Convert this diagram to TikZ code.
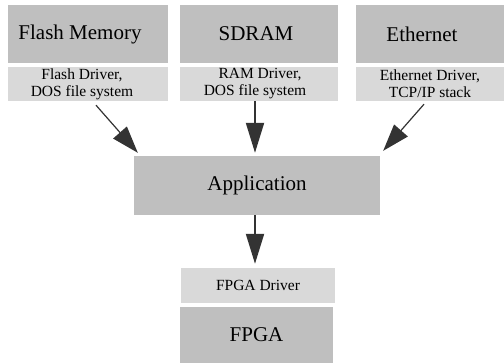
\documentclass[tikz,border=0pt]{standalone}
\usepackage{fontspec}
\setmainfont{Liberation Serif}
\usetikzlibrary{arrows.meta}
\definecolor{darkbox}{HTML}{BFBFBF}
\definecolor{lightbox}{HTML}{D9D9D9}
\definecolor{arrowc}{HTML}{333333}
\begin{document}
\begin{tikzpicture}[x=1pt,y=-1pt,
  bigbox/.style={fill=darkbox,draw=none,inner sep=0pt,minimum height=58pt},
  drvbox/.style={fill=lightbox,draw=none,inner sep=0pt,minimum height=34pt},
  bigtext/.style={inner sep=0pt,font=\fontsize{21}{24}\selectfont},
  drvtext/.style={inner sep=0pt,align=center,font=\fontsize{15.5}{17}\selectfont},
  flow/.style={draw=arrowc,line width=2pt,-{Triangle[length=30pt,width=18pt]}},
  diag/.style={draw=arrowc,line width=1.2pt,-{Triangle[length=27pt,width=18pt]}}]
\useasboundingbox (0,0) rectangle (504,363);
\fill[white] (0,0) rectangle (504,363);
% top row
\node[bigbox,minimum width=160pt] (flash) at (88,34) {};
\node[bigtext] (flashT) at ([xshift=-8pt]flash.center) {Flash Memory};
\node[drvbox,minimum width=160pt] (flashdrv) at (88,84) {};
\node[drvtext] (flashdrvT) at ([xshift=-6pt]flashdrv.center) {Flash Driver,\\DOS file system};
\node[bigbox,minimum width=158pt] (sdram) at (259,34) {};
\node[bigtext] (sdramT) at ([xshift=-3pt]sdram.center) {SDRAM};
\node[drvbox,minimum width=158pt] (sdramdrv) at (259,84) {};
\node[drvtext] (sdramdrvT) at ([xshift=-4pt]sdramdrv.center) {\hspace*{10pt}RAM Driver,\\DOS file system};
\node[bigbox,minimum width=148pt] (eth) at (430,34) {};
\node[bigtext] (ethT) at ([xshift=-8pt]eth.center) {Ethernet};
\node[drvbox,minimum width=148pt] (ethdrv) at (430,84) {};
\node[drvtext] (ethdrvT) at (ethdrv.center) {Ethernet Driver,\\TCP/IP stack};
% application
\node[bigbox,minimum width=246pt,minimum height=59pt] (app) at (257,185.5) {};
\node[bigtext] (appT) at (app.center) {Application};
% FPGA
\node[drvbox,minimum width=154pt,minimum height=35pt] (fpgadrv) at (258,285.5) {};
\node[drvtext] (fpgadrvT) at (fpgadrv.center) {FPGA Driver};
\node[bigbox,minimum width=153pt,minimum height=56pt] (fpga) at (256.5,335) {};
\node[bigtext] (fpgaT) at (fpga.center) {FPGA};
% arrows
\draw[diag] ([xshift=8pt,yshift=-4pt]flashdrv.south) -- ([xshift=4pt,yshift=3pt]app.north west);
\draw[flow] ([xshift=-4pt]sdramdrv.south) -- ([xshift=-2pt,yshift=3pt]app.north);
\draw[diag] ([xshift=-6pt,yshift=-3pt]ethdrv.south) -- ([xshift=3pt,yshift=5pt]app.north east);
\draw[flow] ([xshift=-2pt]app.south) -- ([xshift=-3pt,yshift=4pt]fpgadrv.north);
\end{tikzpicture}
\end{document}
